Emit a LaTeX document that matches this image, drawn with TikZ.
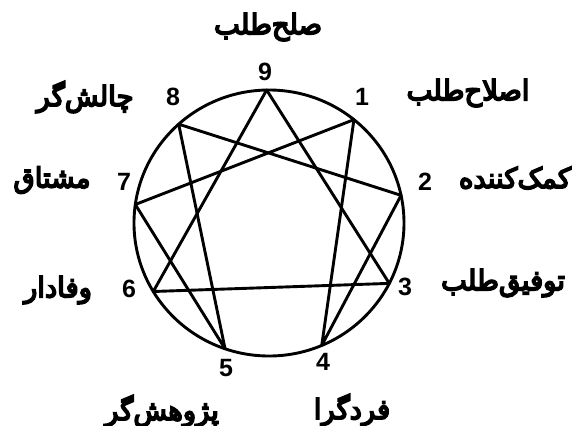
\documentclass[tikz,border=0pt]{standalone}
\usepackage{graphicx}
\usepackage{fontspec}
\setmainfont{Liberation Sans}
\newfontfamily\fa[Script=Arabic,FakeBold=6]{DejaVu Sans}
\TeXXeTstate=1
\newcommand{\fatext}[1]{\scalebox{0.98}[1]{\beginR #1\endR}}
\begin{document}
\begin{tikzpicture}[x=1pt,y=-1pt,
  num/.style={font=\fontsize{25}{25}\selectfont\bfseries, inner sep=0pt},
  lab/.style={font=\fa\fontsize{28}{28}\selectfont, inner sep=0pt},
  edge/.style={line width=2.9pt, line join=round, line cap=round}]
\useasboundingbox (0,0) rectangle (579,426);
\coordinate (c) at (269,223);
\foreach \n/\a in {9/91,1/51,2/12,3/-27,4/-67,5/-109,6/-149,7/172,8/132}{
  \coordinate (p\n) at ({269+135*cos(\a)},{223-133*sin(\a)});
}
\draw[edge] (c) ellipse [x radius=135, y radius=133];
\draw[edge] (p9) -- (p3) -- (p6) -- cycle;
\draw[edge] (p1) -- (p4) -- (p2) -- (p8) -- (p5) -- (p7) -- cycle;
% numbers
\node[num] (n9) at (265,72) {9};
\node[num] (n1) at (362,97) {1};
\node[num] (n2) at (425,182) {2};
\node[num] (n3) at (405,287) {3};
\node[num] (n4) at (323,362) {4};
\node[num] (n5) at (226,368) {5};
\node[num] (n6) at (129,289) {6};
\node[num] (n7) at (124,182) {7};
\node[num] (n8) at (173,97) {8};
% labels
\node[lab] (l9) at (268,27) {\fatext{صلح‌طلب}};
\node[lab] (l1) at (468,93) {\fatext{اصلاح‌طلب}};
\node[lab] (l2) at (515,178) {\fatext{کمک‌کننده}};
\node[lab] (l3) at (503,283) {\fatext{توفیق‌طلب}};
\node[lab] (l4) at (352,410) {\fatext{فردگرا}};
\node[lab] (l5) at (162,411) {\fatext{پژوهش‌گر}};
\node[lab] (l6) at (58,290) {\fatext{وفادار}};
\node[lab] (l7) at (52,180) {\fatext{مشتاق}};
\node[lab] (l8) at (85,97) {\fatext{چالش‌گر}};
\end{tikzpicture}
\end{document}
